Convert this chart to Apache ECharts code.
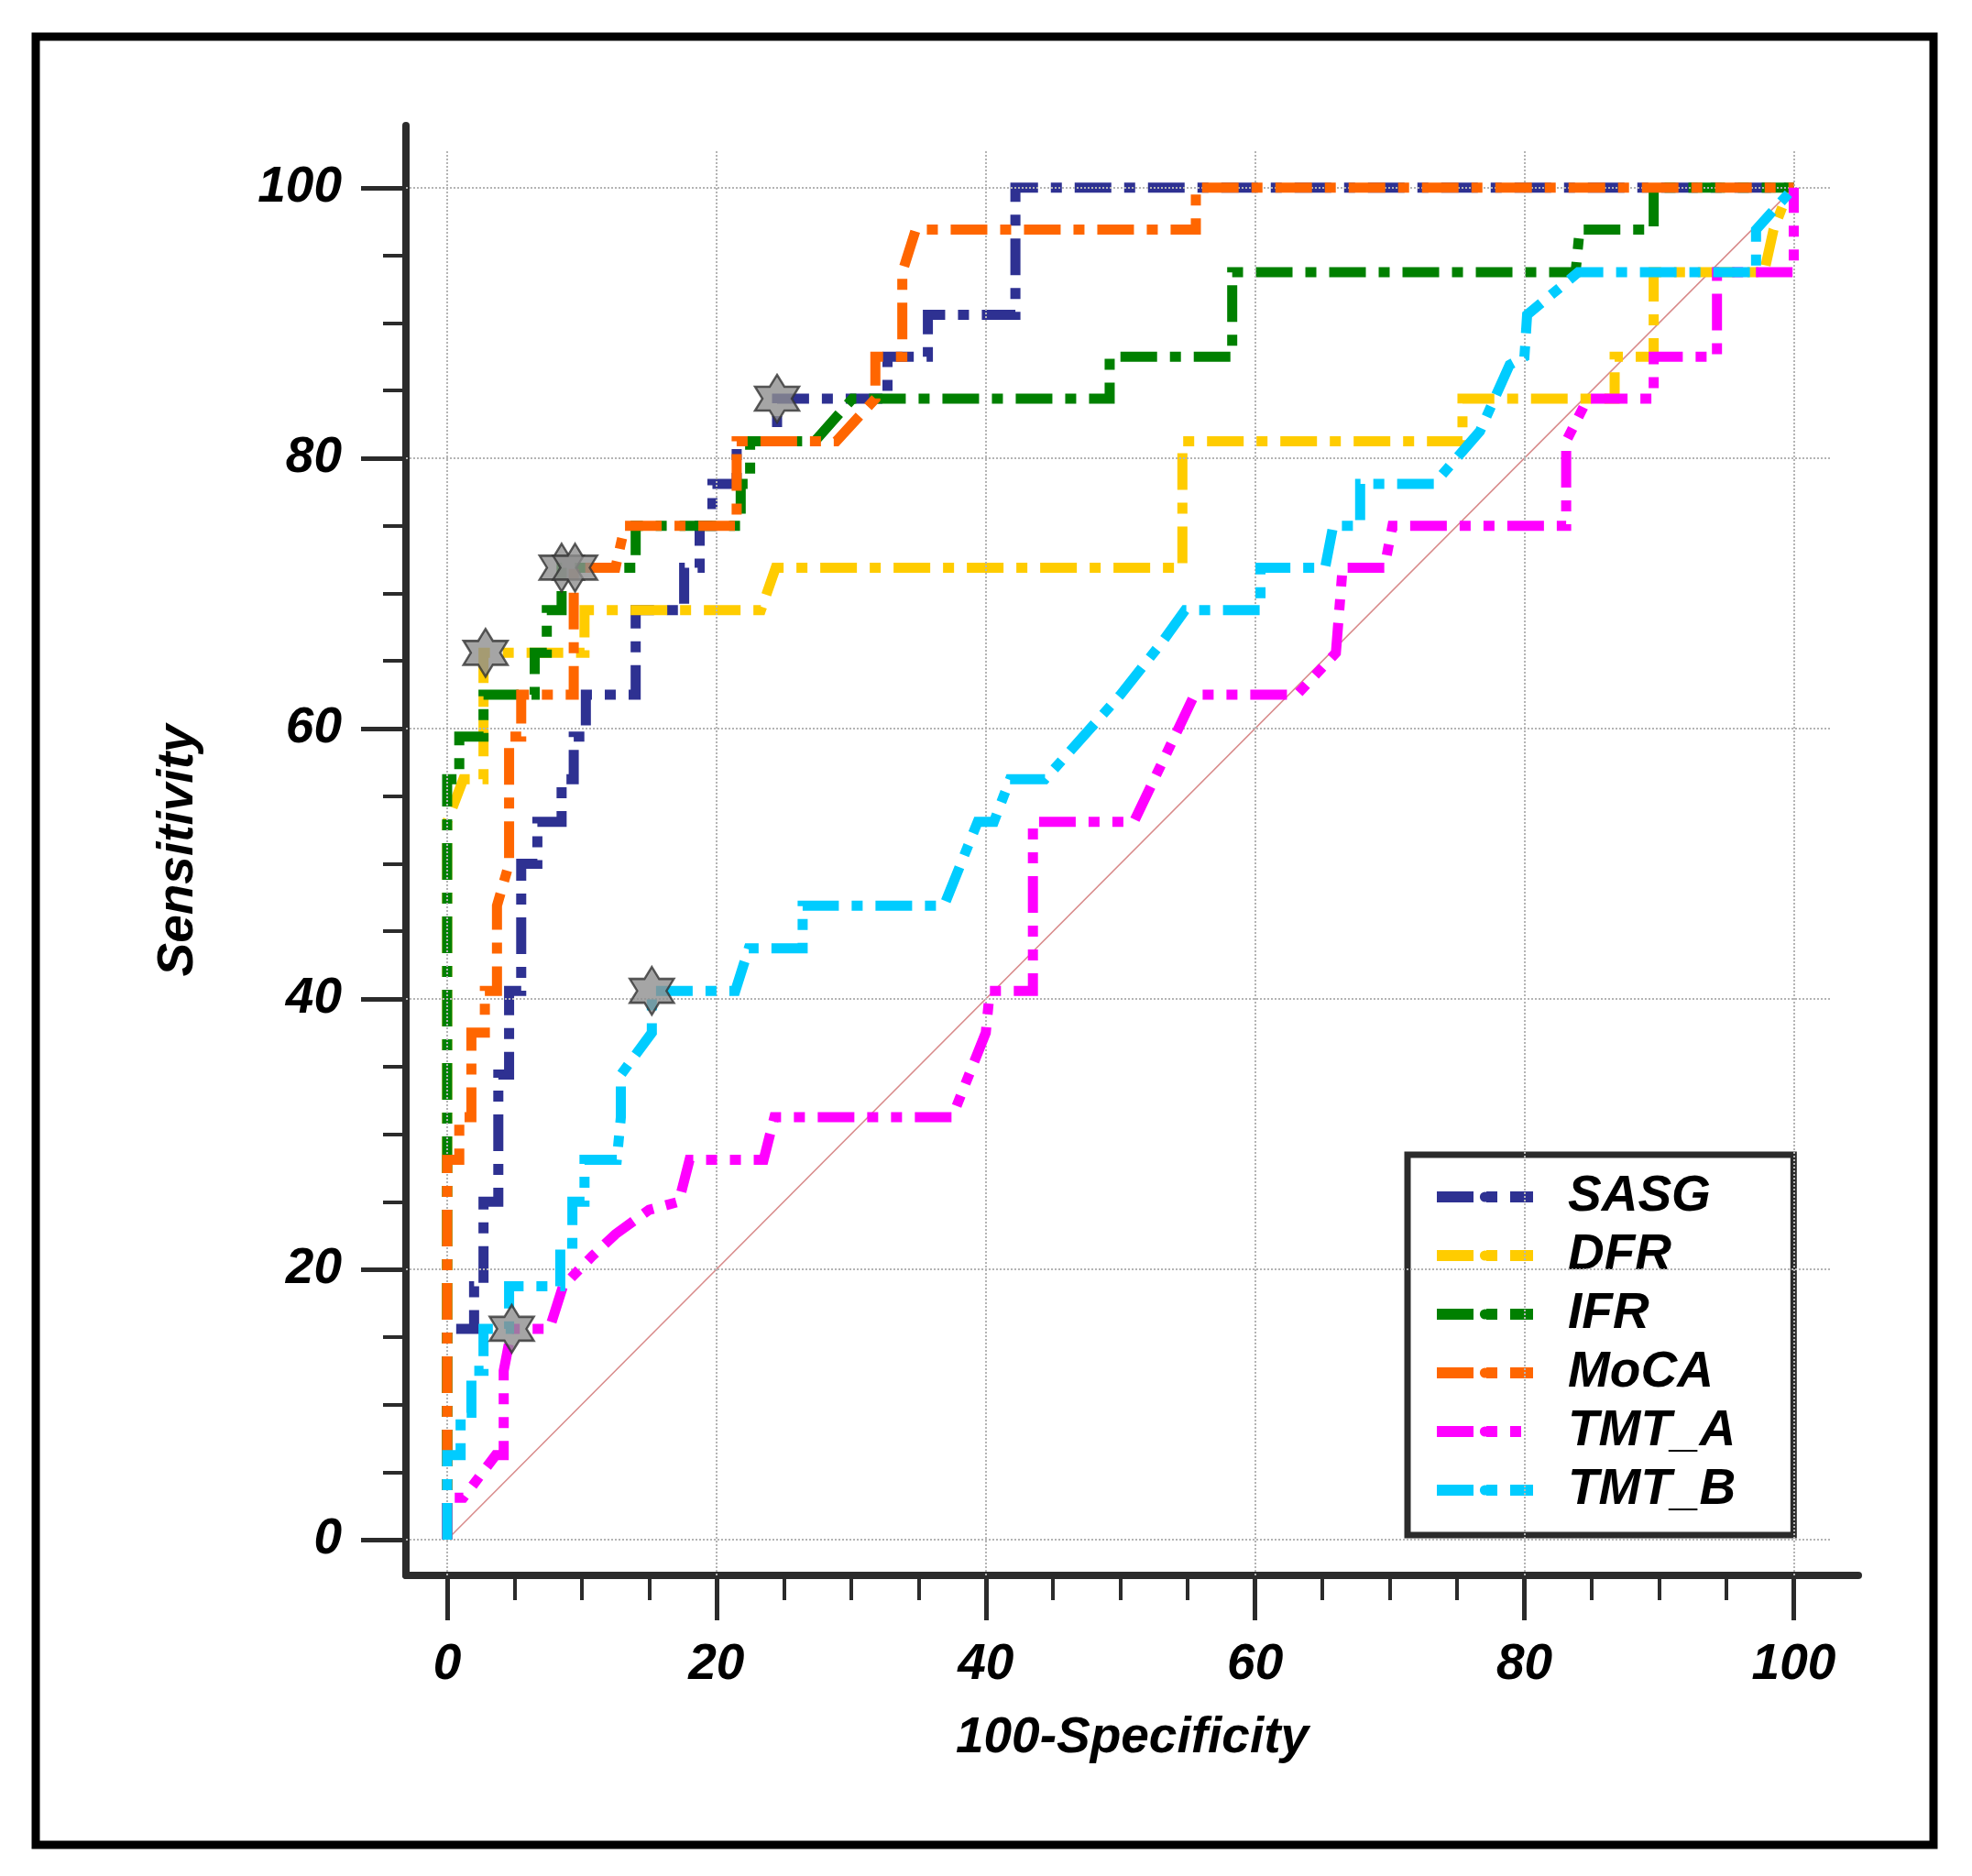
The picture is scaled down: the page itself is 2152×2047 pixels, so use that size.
<!DOCTYPE html>
<html>
<head>
<meta charset="utf-8">
<script src="https://cdn.jsdelivr.net/npm/echarts@6/dist/echarts.min.js"></script>
<style>
  html, body { margin: 0; padding: 0; background: #fff; }
  #roc_chart { width: 2152px; height: 2047px; }
</style>
</head>
<body>
<div id="roc_chart"></div>
<script>
// ROC curves, values (x = 100-Specificity, y = Sensitivity)
var xLabelValues = [0, 20, 40, 60, 80, 100]
var xMinorValues = [0, 5, 10, 15, 20, 25, 30, 35, 40, 45, 50, 55, 60, 65, 70, 75, 80, 85, 90, 95, 100]
var yLabelValues = [0, 20, 40, 60, 80, 100]
var yMinorValues = [0, 5, 10, 15, 20, 25, 30, 35, 40, 45, 50, 55, 60, 65, 70, 75, 80, 85, 90, 95, 100]

var seriesNames = ['SASG', 'DFR', 'IFR', 'MoCA', 'TMT_A', 'TMT_B']

var sasg = [[0, 0], [0, 15.6], [2.0, 15.6], [2.0, 18.75], [2.7, 18.75], [2.7, 25], [3.8, 25], [3.8, 34.4],
  [4.6, 34.4], [4.6, 40.6], [5.5, 40.6], [5.5, 50], [6.7, 50], [6.7, 53.1], [8.5, 53.1], [8.5, 56.25],
  [9.4, 56.25], [9.4, 59.4], [10.3, 59.4], [10.3, 62.5], [14.0, 62.5], [14.0, 68.75], [17.6, 68.75],
  [17.6, 71.9], [18.75, 71.9], [18.75, 75], [19.7, 75], [19.7, 78.1], [21.5, 78.1], [21.5, 81.25],
  [24.5, 81.25], [24.5, 84.4], [32.7, 84.4], [32.7, 87.5], [35.7, 87.5], [35.7, 90.6], [42.2, 90.6],
  [42.2, 100], [100, 100]]

var dfr = [[0, 0], [0, 53.1], [1.2, 56.25], [2.7, 56.25], [2.7, 65.6], [10.2, 65.6], [10.2, 68.75],
  [23.3, 68.75], [24.4, 71.9], [54.6, 71.9], [54.6, 81.25], [75.4, 81.25], [75.4, 84.4], [86.7, 84.4],
  [86.7, 87.5], [89.6, 87.5], [89.6, 93.75], [97.8, 93.75], [98.5, 96.9], [99.7, 100], [100, 100]]

var ifr = [[0, 0], [0, 56.25], [0.9, 56.25], [0.9, 59.4], [2.7, 59.4], [2.7, 62.5], [6.5, 62.5],
  [6.5, 65.6], [7.4, 65.6], [7.4, 68.75], [8.5, 68.75], [8.5, 71.9], [14.0, 71.9], [14.0, 75],
  [21.8, 75], [21.8, 78.1], [22.5, 78.1], [22.5, 81.25], [27.3, 81.25], [30.1, 84.4], [49.2, 84.4],
  [49.2, 87.5], [58.3, 87.5], [58.3, 93.75], [83.8, 93.75], [84.1, 96.9], [89.6, 96.9], [89.6, 100],
  [100, 100]]

var moca = [[0, 0], [0, 28.1], [0.9, 28.1], [0.9, 31.25], [1.8, 31.25], [1.8, 37.5], [2.8, 37.5],
  [2.8, 40.6], [3.7, 40.6], [3.7, 46.9], [4.6, 50], [4.6, 59.4], [5.5, 59.4], [5.5, 62.5], [9.4, 62.5],
  [9.4, 71.9], [12.5, 71.9], [13.2, 75], [21.5, 75], [21.5, 81.25], [28.9, 81.25], [31.8, 84.4],
  [31.8, 87.5], [33.8, 87.5], [33.8, 93.75], [34.8, 96.9], [55.6, 96.9], [55.6, 100], [100, 100]]

var tmtA = [[0, 0], [0, 3.1], [1.2, 3.1], [3.6, 6.25], [4.2, 6.25], [4.2, 12.5], [4.8, 15.6],
  [7.6, 15.6], [8.6, 18.75], [10.8, 21.0], [12.5, 22.6], [15.0, 24.4], [17.2, 25], [18.0, 28.1],
  [23.5, 28.1], [24.3, 31.25], [37.5, 31.25], [40.0, 37.5], [40.3, 40.6], [43.5, 40.6], [43.5, 53.1],
  [51.0, 53.1], [55.5, 62.5], [63.1, 62.5], [66.0, 65.6], [66.5, 71.9], [69.6, 71.9], [70.2, 75],
  [83.1, 75], [83.1, 81.25], [84.7, 84.4], [89.6, 84.4], [89.6, 87.5], [94.3, 87.5], [94.3, 93.75],
  [100, 93.75], [100, 100]]

var tmtB = [[0, 0], [0, 6.25], [1.0, 6.25], [1.0, 9.4], [1.8, 9.4], [1.8, 12.5], [2.7, 12.5],
  [2.7, 15.6], [4.6, 15.6], [4.6, 18.75], [8.4, 18.75], [8.4, 21.9], [9.3, 21.9], [9.3, 25],
  [10.2, 25], [10.2, 28.1], [12.6, 28.1], [12.9, 31.25], [12.9, 34.4], [15.2, 37.5], [15.2, 40.6],
  [21.4, 40.6], [22.4, 43.75], [26.4, 43.75], [26.4, 46.9], [36.9, 46.9], [39.4, 53.1], [40.6, 53.1],
  [41.8, 56.25], [44.4, 56.25], [50.0, 62.5], [53.1, 66.4], [54.8, 68.75], [60.4, 68.75], [60.4, 71.9],
  [65.2, 71.9], [65.8, 75], [67.8, 75], [67.8, 78.1], [73.3, 78.1], [76.7, 82.0], [78.9, 86.9],
  [80.0, 87.5], [80.2, 90.6], [84.0, 93.75], [97.2, 93.75], [97.2, 96.9], [100, 100]]

// optimal cut-off points (stars)
var cutoffPoints = [[24.5, 84.4], [2.85, 65.6], [8.5, 71.9], [9.5, 71.9], [4.8, 15.6], [15.2, 40.6]]

var chanceLine = [[0, 0], [100, 100]]

var curveData = [sasg, dfr, ifr, moca, tmtA, tmtB]
var curveColors = ['#2e3192', '#ffcc00', '#008000', '#ff6600', '#ff00ff', '#00ccff']

var font = { fontFamily: 'Liberation Sans', fontWeight: 'bold', fontStyle: 'italic', color: '#000' }
var dashDot = [40, 14, 12, 14]
var dashDotDot = [40, 14, 12, 14, 12, 14]

var xMin = -3.06, xMax = 104.8, yMin = -2.64, yMax = 104.6
var gridEnd = 102.8

// dotted grid lines, drawn as mark lines
var gridLines = []
xLabelValues.forEach(function (v) {
  gridLines.push([{ coord: [v, yMin] }, { coord: [v, gridEnd] }])
})
yLabelValues.forEach(function (v) {
  gridLines.push([{ coord: [xMin, v] }, { coord: [gridEnd, v] }])
})

var roc_chart = echarts.init(document.getElementById('roc_chart'))

var series = [
  {
    name: 'chance',
    type: 'line',
    data: chanceLine,
    symbol: 'none',
    silent: true,
    z: 1,
    lineStyle: { color: '#d88a8a', width: 1.5 },
    markLine: {
      silent: true,
      symbol: ['none', 'none'],
      label: { show: false },
      lineStyle: { type: 'dotted', color: '#b4b4b4', width: 2 },
      data: gridLines,
    },
  },
]
curveData.forEach(function (d, i) {
  series.push({
    name: seriesNames[i],
    type: 'line',
    data: d,
    symbol: 'none',
    z: 2 + i,
    lineStyle: {
      color: curveColors[i],
      width: 11,
      type: seriesNames[i] === 'TMT_A' ? dashDotDot : dashDot,
      cap: 'butt',
      join: 'miter',
    },
    itemStyle: { color: curveColors[i] },
  })
})
series.push({
  name: 'cutoff',
  type: 'scatter',
  data: cutoffPoints,
  z: 20,
  symbol: 'path://M0,-1 L0.2887,-0.5 L0.866,-0.5 L0.577,0 L0.866,0.5 L0.2887,0.5 L0,1 L-0.2887,0.5 L-0.866,0.5 L-0.577,0 L-0.866,-0.5 L-0.2887,-0.5 Z',
  symbolSize: [48, 52],
  itemStyle: { color: '#8e8e8e', borderColor: '#333', borderWidth: 2.5 },
})

var axisLineStyle = { color: '#2b2b2b', width: 8 }

roc_chart_option = {
  animation: false,
  backgroundColor: '#fff',
  graphic: [
    {
      type: 'rect',
      shape: { x: 39, y: 40, width: 2071, height: 1973 },
      style: { fill: 'none', stroke: '#000', lineWidth: 9 },
      z: 0,
    },
  ],
  legend: {
    data: seriesNames,
    orient: 'vertical',
    left: 1536,
    top: 1260,
    itemWidth: 105,
    itemHeight: 14,
    itemGap: 0,
    padding: [14, 63, 17, 26],
    backgroundColor: '#fff',
    borderColor: '#2b2b2b',
    borderWidth: 7,
    borderRadius: 0,
    lineStyle: { width: 12 },
    textStyle: Object.assign({ fontSize: 55, lineHeight: 64, padding: [0, 0, 0, 33] }, font),
  },
  grid: { left: 443, right: 124, top: 137, bottom: 328, containLabel: false },
  xAxis: [
    {
      type: 'value',
      min: xMin,
      max: xMax,
      position: 'bottom',
      name: '100-Specificity',
      nameLocation: 'middle',
      nameGap: 150,
      nameTextStyle: Object.assign({ fontSize: 55 }, font),
      axisLine: { show: true, onZero: false, lineStyle: axisLineStyle },
      axisTick: { show: true, customValues: xLabelValues, length: 49, lineStyle: { color: '#2b2b2b', width: 5 } },
      axisLabel: Object.assign({ customValues: xLabelValues, fontSize: 55, margin: 70 }, font),
      splitLine: { show: false },
    },
    {
      type: 'value',
      min: xMin,
      max: xMax,
      position: 'bottom',
      axisLine: { show: false, onZero: false },
      axisTick: { show: true, customValues: xMinorValues, length: 27, lineStyle: { color: '#2b2b2b', width: 4 } },
      axisLabel: { show: false },
      splitLine: { show: false },
    },
  ],
  yAxis: [
    {
      type: 'value',
      min: yMin,
      max: yMax,
      position: 'left',
      name: 'Sensitivity',
      nameLocation: 'middle',
      nameRotate: 90,
      nameGap: 221,
      nameTextStyle: Object.assign({ fontSize: 55 }, font),
      axisLine: { show: true, onZero: false, lineStyle: axisLineStyle },
      axisTick: { show: true, customValues: yLabelValues, length: 49, lineStyle: { color: '#2b2b2b', width: 5 } },
      axisLabel: Object.assign({ customValues: yLabelValues, fontSize: 55, margin: 70 }, font),
      splitLine: { show: false },
    },
    {
      type: 'value',
      min: yMin,
      max: yMax,
      position: 'left',
      axisLine: { show: false, onZero: false },
      axisTick: { show: true, customValues: yMinorValues, length: 25, lineStyle: { color: '#2b2b2b', width: 4 } },
      axisLabel: { show: false },
      splitLine: { show: false },
    },
  ],
  series: series,
}
roc_chart.setOption(roc_chart_option)
</script>
</body>
</html>
